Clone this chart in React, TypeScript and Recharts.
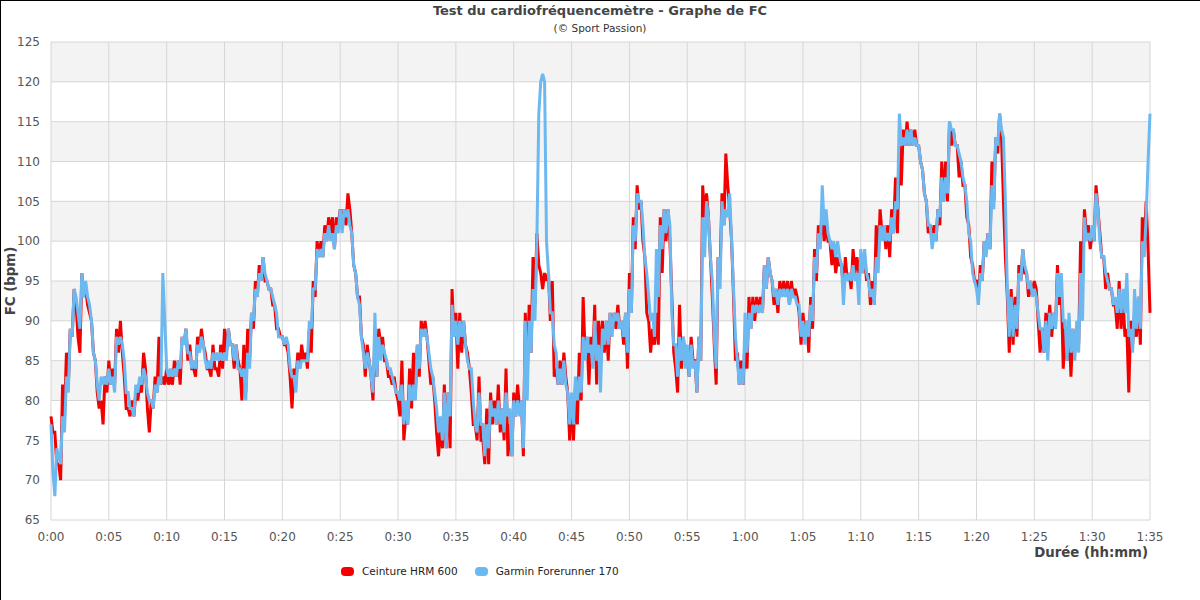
import * as React from 'react';
import { LineChart, Line, XAxis, YAxis, CartesianGrid } from 'recharts';

// FC in bpm, one value every 10 s (6 per minute row)
const hrm600 = [
    78, 76, 76, 72, 72, 70, // 0
    82, 78, 86, 82, 89, 88,
    94, 92, 88, 86, 96, 93,
    94, 92, 91, 90, 86, 85,
    81, 79, 80, 77, 83, 81,
    85, 82, 84, 82, 89, 86, // 5
    90, 86, 83, 79, 79, 78,
    80, 78, 81, 80, 82, 81,
    86, 84, 79, 76, 80, 79,
    83, 81, 88, 82, 83, 82,
    84, 82, 83, 82, 85, 83, // 10
    85, 82, 88, 87, 89, 85,
    87, 84, 84, 83, 88, 86,
    89, 87, 86, 84, 84, 83,
    87, 84, 84, 83, 87, 84,
    89, 86, 89, 87, 87, 84, // 15
    87, 85, 84, 80, 87, 81,
    89, 85, 91, 89, 95, 93,
    97, 95, 98, 95, 95, 94,
    94, 92, 92, 89, 89, 88,
    88, 87, 87, 86, 83, 79, // 20
    84, 82, 86, 84, 87, 85,
    86, 84, 89, 86, 95, 93,
    100, 98, 100, 98, 102, 100,
    103, 101, 103, 99, 103, 102,
    104, 102, 104, 102, 106, 104, // 25
    101, 97, 96, 93, 93, 88,
    87, 83, 87, 85, 83, 80,
    88, 83, 89, 87, 88, 85,
    85, 83, 83, 82, 83, 81,
    80, 78, 85, 75, 78, 77, // 30
    84, 79, 86, 81, 87, 83,
    90, 88, 90, 88, 85, 82,
    83, 80, 76, 73, 77, 74,
    82, 74, 81, 74, 94, 88,
    91, 84, 91, 86, 90, 87, // 35
    86, 84, 81, 77, 77, 75,
    83, 75, 75, 72, 79, 72,
    81, 77, 80, 77, 82, 76,
    79, 75, 84, 73, 77, 73,
    81, 78, 82, 79, 80, 73, // 40
    91, 83, 92, 86, 98, 92,
    101, 97, 96, 94, 96, 95,
    96, 90, 95, 83, 84, 82,
    85, 82, 86, 83, 81, 75,
    80, 75, 82, 77, 86, 80, // 45
    93, 86, 88, 82, 88, 85,
    92, 82, 90, 86, 90, 86,
    90, 85, 91, 89, 91, 89,
    92, 89, 90, 87, 91, 84,
    96, 91, 103, 99, 107, 104, // 50
    105, 100, 98, 91, 90, 86,
    89, 87, 91, 87, 103, 96,
    104, 100, 104, 100, 93, 86,
    84, 81, 92, 84, 88, 85,
    86, 83, 88, 85, 85, 81, // 55
    88, 85, 107, 103, 106, 103,
    98, 93, 87, 82, 98, 96,
    106, 102, 111, 107, 104, 100,
    93, 85, 86, 82, 85, 82,
    88, 84, 93, 89, 93, 90, // 60
    93, 91, 93, 91, 97, 94,
    98, 96, 95, 92, 94, 91,
    95, 93, 95, 93, 95, 92,
    95, 93, 94, 93, 91, 87,
    91, 88, 90, 86, 93, 89, // 65
    99, 95, 102, 100, 104, 100,
    102, 100, 100, 97, 99, 96,
    98, 97, 97, 94, 98, 95,
    96, 94, 99, 96, 98, 96,
    98, 96, 98, 95, 96, 92, // 70
    95, 92, 102, 97, 104, 101,
    102, 99, 102, 98, 104, 101,
    108, 101, 112, 107, 114, 112,
    115, 112, 114, 112, 114, 112,
    112, 110, 109, 106, 105, 101, // 75
    102, 100, 102, 100, 104, 102,
    110, 105, 110, 105, 115, 112,
    114, 112, 112, 108, 110, 107,
    107, 103, 102, 98, 97, 95,
    95, 93, 97, 95, 100, 99, // 80
    101, 99, 110, 105, 113, 111,
    116, 113, 105, 98, 93, 86,
    94, 87, 93, 88, 97, 95,
    99, 96, 96, 93, 95, 93,
    95, 94, 90, 86, 89, 86, // 85
    91, 88, 92, 88, 91, 89,
    97, 92, 94, 84, 89, 85,
    90, 83, 89, 86, 89, 87,
    100, 95, 104, 101, 102, 99,
    101, 100, 107, 104, 101, 98, // 90
    98, 94, 96, 94, 94, 92,
    92, 89, 95, 89, 93, 88,
    89, 81, 90, 87, 91, 88,
    93, 87, 103, 99, 105, 99,
    91 // 95
];

const forerunner170 = [
    77, 71, 68, 74, 73, 72, // 0
    78, 76, 83, 81, 89, 88,
    94, 93, 91, 89, 96, 93,
    95, 93, 92, 90, 86, 85,
    82, 80, 83, 82, 83, 82,
    84, 82, 83, 81, 88, 87, // 5
    88, 87, 85, 81, 81, 79,
    79, 78, 82, 81, 83, 82,
    84, 83, 81, 80, 80, 79,
    82, 81, 83, 82, 96, 90,
    84, 83, 84, 83, 84, 83, // 10
    85, 84, 88, 87, 89, 86,
    86, 84, 85, 84, 87, 86,
    88, 87, 85, 84, 85, 84,
    86, 85, 86, 85, 86, 85,
    86, 85, 89, 87, 87, 85, // 15
    87, 84, 84, 83, 84, 80,
    86, 84, 91, 90, 94, 93,
    96, 95, 98, 96, 95, 94,
    94, 93, 92, 91, 88, 88,
    88, 87, 88, 87, 84, 83, // 20
    83, 81, 85, 84, 85, 85,
    85, 85, 90, 89, 94, 94,
    99, 98, 99, 98, 101, 100,
    102, 100, 101, 99, 102, 101,
    104, 101, 104, 103, 104, 102, // 25
    101, 97, 96, 93, 92, 88,
    86, 84, 86, 85, 83, 81,
    91, 83, 88, 85, 87, 86,
    85, 84, 84, 83, 82, 81,
    81, 80, 82, 77, 80, 77, // 30
    82, 80, 82, 80, 87, 84,
    89, 88, 89, 88, 86, 84,
    83, 81, 79, 76, 78, 75,
    81, 74, 81, 78, 92, 88,
    90, 87, 90, 88, 90, 87, // 35
    85, 84, 84, 80, 77, 76,
    81, 77, 77, 73, 77, 74,
    80, 78, 79, 77, 80, 77,
    79, 76, 81, 78, 79, 73,
    80, 78, 80, 78, 80, 74, // 40
    90, 80, 90, 86, 94, 90,
    100, 116, 120, 121, 120, 100,
    96, 91, 91, 87, 86, 82,
    84, 82, 85, 82, 81, 77,
    81, 77, 83, 80, 83, 81, // 45
    88, 85, 88, 86, 87, 84,
    90, 85, 87, 81, 89, 87,
    90, 87, 91, 88, 91, 90,
    91, 89, 90, 88, 91, 86,
    94, 91, 102, 100, 106, 105, // 50
    105, 102, 98, 96, 93, 90,
    91, 88, 99, 93, 102, 99,
    104, 101, 104, 102, 91, 87,
    87, 83, 88, 85, 88, 84,
    87, 83, 87, 84, 85, 81, // 55
    88, 85, 103, 98, 105, 103,
    98, 95, 88, 84, 98, 94,
    105, 102, 104, 103, 106, 100,
    94, 88, 85, 82, 84, 82,
    91, 86, 91, 89, 92, 91, // 60
    92, 91, 92, 91, 97, 94,
    98, 96, 95, 93, 94, 92,
    94, 93, 94, 93, 94, 92,
    94, 93, 93, 92, 92, 88,
    90, 87, 90, 88, 92, 90, // 65
    98, 96, 101, 99, 107, 102,
    104, 101, 100, 99, 100, 98,
    100, 98, 97, 92, 96, 95,
    96, 95, 97, 95, 96, 92,
    99, 96, 99, 96, 95, 93, // 70
    94, 92, 98, 96, 102, 100,
    102, 100, 101, 100, 103, 101,
    105, 104, 116, 112, 113, 112,
    114, 112, 114, 112, 113, 112,
    112, 110, 109, 106, 105, 102, // 75
    102, 99, 101, 100, 104, 103,
    108, 105, 108, 106, 115, 114,
    114, 112, 112, 111, 110, 108,
    107, 105, 101, 100, 96, 95,
    94, 92, 96, 95, 100, 98, // 80
    101, 99, 107, 104, 113, 112,
    116, 114, 113, 105, 94, 88,
    93, 88, 92, 89, 96, 95,
    99, 97, 96, 94, 95, 93,
    94, 93, 91, 89, 89, 86, // 85
    90, 85, 91, 89, 91, 89,
    96, 93, 96, 90, 90, 85,
    91, 86, 89, 85, 90, 86,
    96, 90, 103, 100, 101, 100,
    102, 100, 106, 104, 100, 98, // 90
    98, 96, 95, 94, 94, 92,
    93, 91, 94, 91, 94, 91,
    96, 88, 89, 86, 94, 89,
    93, 89, 100, 98, 103, 110,
    116 // 95
];

const seriesNames = ['Ceinture HRM 600', 'Garmin Forerunner 170'];
const seriesColors = ['#f20000', '#6cb8f0'];

const tickMinutes = [0, 5, 10, 15, 20, 25, 30, 35, 40, 45, 50, 55, 60, 65, 70, 75, 80, 85, 90, 95];
const tickLabels = [
    '0:00', '0:05', '0:10', '0:15', '0:20', '0:25', '0:30', '0:35', '0:40', '0:45',
    '0:50', '0:55', '1:00', '1:05', '1:10', '1:15', '1:20', '1:25', '1:30', '1:35'
];
const yTicks = [65, 70, 75, 80, 85, 90, 95, 100, 105, 110, 115, 120, 125];

const data = hrm600.map((v, i) => ({
    min: i / 6,
    hrm: v,
    garmin: forerunner170[i]
}));

const font = 'DejaVu Sans, sans-serif';

const App = () => {
    return (
        <div style={{ position: 'relative', width: 1200, height: 600, background: '#fff', fontFamily: font, overflow: 'hidden' }}>
            <style>{'body{margin:0}'}</style>
            <LineChart
                width={1200}
                height={600}
                data={data}
                margin={{ top: 42, right: 50, bottom: 50, left: 11 }}
            >
                <CartesianGrid
                    stroke="#d6d6d6"
                    horizontalFill={['#f3f3f3', '#ffffff']}
                    fillOpacity={1}
                />
                <XAxis
                    dataKey="min"
                    type="number"
                    domain={[0, 95]}
                    ticks={tickMinutes}
                    interval={0}
                    tickFormatter={(v: number) => tickLabels[tickMinutes.indexOf(v)]}
                    axisLine={false}
                    tickLine={false}
                    tickSize={6}
                    tickMargin={6}
                    height={30}
                    tick={{ fill: '#555', fontSize: 12, fontFamily: font }}
                />
                <YAxis
                    type="number"
                    domain={[65, 125]}
                    ticks={yTicks}
                    interval={0}
                    axisLine={false}
                    tickLine={false}
                    tickSize={6}
                    tickMargin={5}
                    width={40}
                    tick={{ fill: '#555', fontSize: 12, fontFamily: font }}
                />
                <Line
                    dataKey="hrm"
                    name={seriesNames[0]}
                    type="linear"
                    stroke={seriesColors[0]}
                    strokeWidth={3}
                    dot={false}
                    isAnimationActive={false}
                />
                <Line
                    dataKey="garmin"
                    name={seriesNames[1]}
                    type="linear"
                    stroke={seriesColors[1]}
                    strokeWidth={3}
                    dot={false}
                    isAnimationActive={false}
                />
            </LineChart>

            {/* titles */}
            <div style={{ position: 'absolute', top: 3, left: 0, width: 1200, textAlign: 'center', fontSize: 13, fontWeight: 'bold', color: '#444', lineHeight: '16px' }}>
                Test du cardiofréquencemètre - Graphe de FC
            </div>
            <div style={{ position: 'absolute', top: 21, left: 0, width: 1200, textAlign: 'center', fontSize: 10.5, color: '#333', lineHeight: '14px' }}>
                (© Sport Passion)
            </div>
            <div style={{ position: 'absolute', left: 10, top: 281, transform: 'translate(-50%, -50%) rotate(-90deg)', whiteSpace: 'nowrap', fontSize: 13.3, fontWeight: 'bold', color: '#444' }}>
                FC (bpm)
            </div>
            <div style={{ position: 'absolute', right: 52, top: 545, whiteSpace: 'nowrap', fontSize: 13.3, fontWeight: 'bold', color: '#444' }}>
                Durée (hh:mm)
            </div>

            {/* legend */}
            <div style={{ position: 'absolute', left: 341, top: 565, display: 'flex', alignItems: 'center', fontSize: 10.5, color: '#222' }}>
                {seriesNames.map((name, i) => (
                    <div key={name} style={{ display: 'flex', alignItems: 'center', marginRight: 17 }}>
                        <span style={{ display: 'inline-block', width: 13, height: 9, borderRadius: 4, background: seriesColors[i], marginRight: 8 }} />
                        <span>{name}</span>
                    </div>
                ))}
            </div>

            {/* outer frame, top and left only as in the picture */}
            <div style={{ position: 'absolute', inset: 0, borderTop: '1px solid #000', borderLeft: '1px solid #000', pointerEvents: 'none' }} />
        </div>
    );
};

export default App;
